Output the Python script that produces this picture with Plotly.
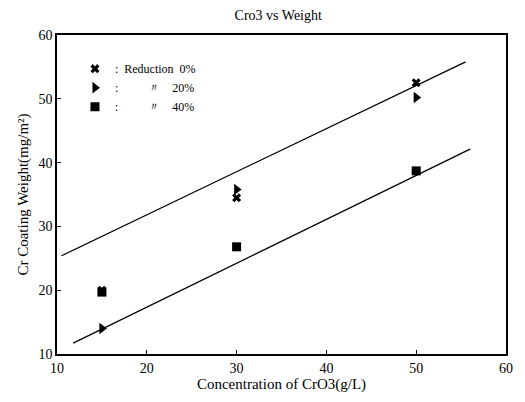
import plotly.graph_objects as go

# CrO3 concentration (g/L) and coating weight (mg/m^2) for each reduction level
conc = [15, 30, 50]
weight_0 = [20.0, 34.5, 52.5]
weight_20 = [14.0, 35.8, 50.2]
weight_40 = [19.7, 26.8, 38.7]

# straight-line trends (x range and y at its ends)
upper_x = [10.5, 55.5]
upper_y = [25.4, 55.8]
lower_x = [11.8, 56.0]
lower_y = [11.7, 42.1]

serif = "Liberation Serif, Times New Roman, serif"

fig = go.Figure()

fig.add_trace(go.Scatter(x=upper_x, y=upper_y, mode="lines",
                         line=dict(color="black", width=1.3), showlegend=False))
fig.add_trace(go.Scatter(x=lower_x, y=lower_y, mode="lines",
                         line=dict(color="black", width=1.3), showlegend=False))

fig.add_trace(go.Scatter(x=conc, y=weight_0, mode="markers",
                         name=":  Reduction  0%",
                         marker=dict(symbol="x", size=8, color="black")))
fig.add_trace(go.Scatter(x=conc, y=weight_20, mode="markers",
                         name=":          \u3003    20%",
                         marker=dict(symbol="triangle-right", size=10, color="black")))
fig.add_trace(go.Scatter(x=conc, y=weight_40, mode="markers",
                         name=":          \u3003    40%",
                         marker=dict(symbol="square", size=9, color="black")))

axis_common = dict(
    showline=True, linecolor="black", linewidth=1.5, mirror=True,
    ticks="inside", ticklen=4, tickcolor="black", showgrid=False, zeroline=False,
    tickfont=dict(family=serif, size=14, color="black"),
    range=[10, 60], dtick=10, tick0=10,
)

fig.update_layout(
    width=525, height=402,
    margin=dict(l=57, r=13, t=35, b=45),
    paper_bgcolor="white", plot_bgcolor="white",
    title=dict(text="Cro3 vs Weight", x=0.53, xanchor="center", y=0.975, yanchor="top",
               font=dict(family=serif, size=14, color="black")),
    xaxis=dict(axis_common,
               title=dict(text="Concentration of CrO3(g/L)", standoff=4,
                          font=dict(family=serif, size=15, color="black"))),
    yaxis=dict(axis_common,
               title=dict(text="Cr Coating Weight(mg/m\u00b2)", standoff=6,
                          font=dict(family=serif, size=15, color="black"))),
    legend=dict(x=0.04, y=0.94, xanchor="left", yanchor="top",
                bgcolor="rgba(0,0,0,0)", tracegroupgap=0, itemwidth=30,
                font=dict(family=serif, size=12, color="black")),
)

fig.write_html("out.html")
